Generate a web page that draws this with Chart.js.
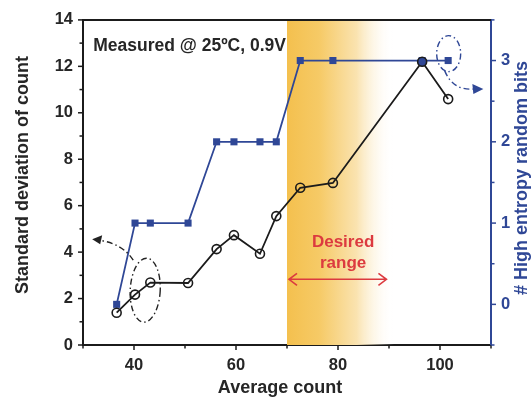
<!DOCTYPE html>
<html><head><meta charset="utf-8">
<script src="https://cdn.jsdelivr.net/npm/chart.js@4"></script>
<style>html,body{margin:0;padding:0;background:#fff}</style>
</head><body>
<canvas id="c" width="532" height="399" style="width:532px;height:399px"></canvas>
<script>
const avgCount    = [36.6, 40.2, 43.2, 50.6, 56.2, 59.6, 64.7, 67.9, 72.6, 79.0, 96.5, 101.6];
const stdDev      = [1.39, 2.17, 2.69, 2.67, 4.13, 4.73, 3.93, 5.55, 6.77, 6.98, 12.2, 10.59];
const entropyBits = [0, 1, 1, 1, 2, 2, 2, 2, 3, 3, 3, 3];
const xTickValues  = [40, 60, 80, 100];
const yTickValues  = [0, 2, 4, 6, 8, 10, 12, 14];
const y1TickValues = [0, 1, 2, 3];
const desiredRange = [70, 89.5];

const NAVY = '#2f4796';
const BLACK = '#1b1b1b';
const FONT = "'Liberation Sans', Arial, sans-serif";

function fixedTicks(vals){ return s => { s.ticks = vals.map(v => ({value: v})); }; }

const deco = {
  id: 'deco',
  beforeDatasetsDraw(chart){
    const {ctx, chartArea: a, scales: {x}} = chart;
    const x0 = x.getPixelForValue(70), x1 = x.getPixelForValue(91);
    const g = ctx.createLinearGradient(x0, 0, x1, 0);
    g.addColorStop(0, '#f4c04e');
    g.addColorStop(0.3, '#f6ca66');
    g.addColorStop(0.65, '#fae3b0');
    g.addColorStop(1, 'rgba(255,255,255,0)');
    ctx.save();
    ctx.fillStyle = g;
    ctx.fillRect(x0, a.top, x1 - x0, a.bottom - a.top);
    ctx.restore();
  },
  afterDatasetsDraw(chart){
    const {ctx, chartArea: a, scales: {x, y, y1}} = chart;
    ctx.save();
    // top border
    ctx.strokeStyle = BLACK; ctx.lineWidth = 2;
    ctx.beginPath(); ctx.moveTo(a.left, a.top); ctx.lineTo(a.right, a.top); ctx.stroke();
    // ticks
    ctx.lineWidth = 1.5;
    ctx.strokeStyle = BLACK;
    for (let v = 30; v <= 110; v += 10) {
      const p = x.getPixelForValue(v), L = (v % 20 === 0) ? 5 : 3.5;
      ctx.beginPath(); ctx.moveTo(p, a.bottom); ctx.lineTo(p, a.bottom + L); ctx.stroke();
    }
    for (let v = 0; v <= 14; v += 1) {
      const p = y.getPixelForValue(v), L = (v % 2 === 0) ? 5 : 3.5;
      ctx.beginPath(); ctx.moveTo(a.left, p); ctx.lineTo(a.left - L, p); ctx.stroke();
    }
    ctx.strokeStyle = NAVY;
    for (let v = -0.5; v <= 3.5; v += 0.5) {
      const p = y1.getPixelForValue(v), L = (Number.isInteger(v)) ? 5 : 3.5;
      ctx.beginPath(); ctx.moveTo(a.right, p); ctx.lineTo(a.right + L, p); ctx.stroke();
    }
    // desired range arrow
    const ay = y.getPixelForValue(2.83);
    const ax0 = x.getPixelForValue(desiredRange[0]) + 2, ax1 = x.getPixelForValue(desiredRange[1]);
    ctx.strokeStyle = '#dc3a3f'; ctx.lineWidth = 1.6;
    ctx.beginPath(); ctx.moveTo(ax0, ay); ctx.lineTo(ax1, ay);
    ctx.moveTo(ax0 + 8, ay - 6); ctx.lineTo(ax0, ay); ctx.lineTo(ax0 + 8, ay + 6);
    ctx.moveTo(ax1 - 8, ay - 6); ctx.lineTo(ax1, ay); ctx.lineTo(ax1 - 8, ay + 6);
    ctx.stroke();
    ctx.fillStyle = '#dc3a3f';
    ctx.font = "bold 17px " + FONT;
    ctx.textAlign = 'center'; ctx.textBaseline = 'middle';
    ctx.fillText('Desired', x.getPixelForValue(81), y.getPixelForValue(4.42));
    ctx.fillText('range', x.getPixelForValue(81), y.getPixelForValue(3.52));
    // measured label
    ctx.fillStyle = '#262626';
    ctx.textAlign = 'left';
    ctx.font = "bold 17.5px " + FONT;
    ctx.fillText('Measured @ 25\u00BAC, 0.9V', x.getPixelForValue(32), y.getPixelForValue(12.88));
    // dash-dot ellipse lower-left
    ctx.setLineDash([6, 3, 1.5, 3]);
    ctx.strokeStyle = '#222'; ctx.lineWidth = 1.4;
    const ex = x.getPixelForValue(42.2), ey = y.getPixelForValue(2.36);
    ctx.beginPath(); ctx.ellipse(ex, ey, 15, 32, 0.05, 0, Math.PI * 2); ctx.stroke();
    const tx = x.getPixelForValue(31.8), ty = y.getPixelForValue(4.55);
    ctx.beginPath(); ctx.moveTo(ex - 12, ey - 30); ctx.quadraticCurveTo(ex - 22, ey - 46, tx + 8, ty + 1); ctx.stroke();
    ctx.setLineDash([]);
    ctx.fillStyle = '#222';
    ctx.beginPath(); ctx.moveTo(tx, ty); ctx.lineTo(tx + 10, ty - 4); ctx.lineTo(tx + 8, ty + 5); ctx.closePath(); ctx.fill();
    // dash-dot ellipse upper-right
    ctx.setLineDash([6, 3, 1.5, 3]);
    ctx.strokeStyle = NAVY;
    const fx = x.getPixelForValue(101.7), fy = y1.getPixelForValue(3.085);
    ctx.beginPath(); ctx.ellipse(fx, fy, 12, 18, 0, 0, Math.PI * 2); ctx.stroke();
    const ux = x.getPixelForValue(108.5), uy = y1.getPixelForValue(2.65);
    ctx.beginPath(); ctx.moveTo(fx - 4, fy + 17); ctx.quadraticCurveTo(fx + 4, uy + 2, ux - 9, uy); ctx.stroke();
    ctx.setLineDash([]);
    ctx.fillStyle = NAVY;
    ctx.beginPath(); ctx.moveTo(ux, uy); ctx.lineTo(ux - 11, uy - 5); ctx.lineTo(ux - 10, uy + 5); ctx.closePath(); ctx.fill();
    // axis titles
    ctx.font = "bold 18px " + FONT;
    ctx.textAlign = 'center'; ctx.textBaseline = 'middle';
    ctx.fillStyle = '#262626';
    ctx.fillText('Average count', 280, 388);
    ctx.save(); ctx.translate(23, 175); ctx.rotate(-Math.PI / 2);
    ctx.fillText('Standard deviation of count', 0, 0); ctx.restore();
    ctx.fillStyle = NAVY;
    ctx.save(); ctx.translate(522, 178); ctx.rotate(-Math.PI / 2);
    ctx.fillText('# High entropy random bits', 0, 0); ctx.restore();
    ctx.restore();
  }
};

new Chart(document.getElementById('c'), {
  type: 'line',
  data: {
    datasets: [
      {
        label: 'Standard deviation of count',
        data: avgCount.map((v, i) => ({x: v, y: stdDev[i]})),
        yAxisID: 'y',
        borderColor: BLACK, borderWidth: 1.8,
        pointStyle: 'circle', pointRadius: 4.5, pointBorderWidth: 1.6,
        pointBorderColor: BLACK,
        pointBackgroundColor: avgCount.map((v, i) => i === 10 ? NAVY : 'rgba(255,255,255,0)'),
        tension: 0
      },
      {
        label: '# High entropy random bits',
        data: avgCount.map((v, i) => ({x: v, y: entropyBits[i]})),
        yAxisID: 'y1',
        borderColor: NAVY, borderWidth: 1.8,
        pointStyle: 'rect', pointRadius: 5, pointBorderWidth: 0,
        pointBackgroundColor: NAVY, pointBorderColor: NAVY,
        tension: 0
      }
    ]
  },
  options: {
    responsive: false, animation: false, devicePixelRatio: 1,
    layout: {padding: {top: 19, left: 0, right: 0, bottom: 0}},
    plugins: {legend: {display: false}, tooltip: {enabled: false}},
    scales: {
      x: {
        type: 'linear', position: 'bottom', min: 30, max: 110,
        afterBuildTicks: fixedTicks(xTickValues),
        afterFit: s => { s.height = 54; },
        grid: {display: false, drawTicks: false},
        border: {display: true, color: BLACK, width: 2},
        ticks: {padding: 11, color: '#262626', font: {family: FONT, size: 16.5, weight: 'bold'}}
      },
      y: {
        type: 'linear', position: 'left', min: 0, max: 14,
        afterBuildTicks: fixedTicks(yTickValues),
        afterFit: s => { s.width = 83; },
        grid: {display: false, drawTicks: false},
        border: {display: true, color: BLACK, width: 2},
        ticks: {padding: 10, color: '#262626', font: {family: FONT, size: 16.5, weight: 'bold'}}
      },
      y1: {
        type: 'linear', position: 'right', min: -0.5, max: 3.5,
        afterBuildTicks: fixedTicks(y1TickValues),
        afterFit: s => { s.width = 41; },
        grid: {display: false, drawTicks: false},
        border: {display: true, color: NAVY, width: 2},
        ticks: {padding: 10, color: NAVY, font: {family: FONT, size: 16.5, weight: 'bold'}}
      }
    }
  },
  plugins: [deco]
});
</script>
</body></html>
